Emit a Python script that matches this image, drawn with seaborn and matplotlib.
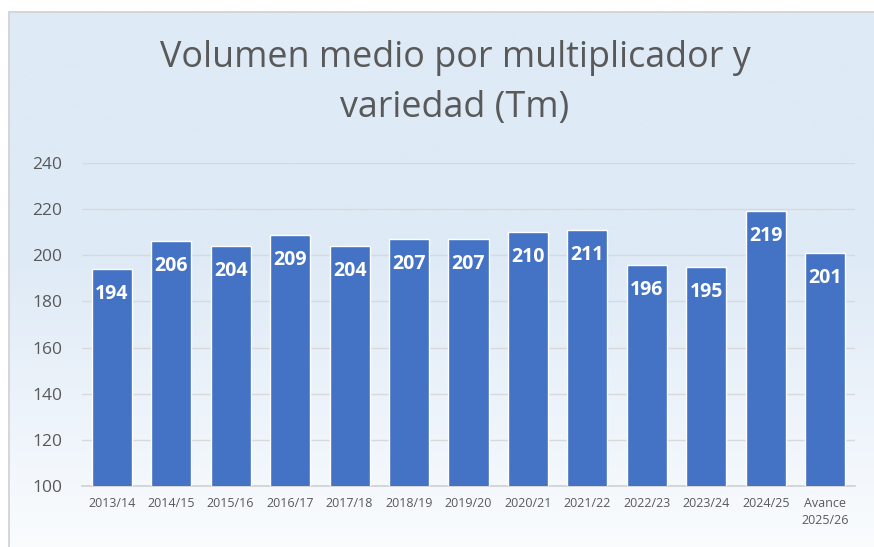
import numpy as np
import pandas as pd
import matplotlib
matplotlib.use("Agg")
import matplotlib.pyplot as plt
import seaborn as sns

campanas = ["2013/14", "2014/15", "2015/16", "2016/17", "2017/18", "2018/19", "2019/20",
            "2020/21", "2021/22", "2022/23", "2023/24", "2024/25", "Avance\n2025/26"]
volumen = [194, 206, 204, 209, 204, 207, 207, 210, 211, 196, 195, 219, 201]
etiquetas = ["194", "206", "204", "209", "204", "207", "207", "210", "211", "196", "195", "219", "201"]
y_ticks = [100, 120, 140, 160, 180, 200, 220, 240]
titulo_l1 = "Volumen medio por multiplicador y"
titulo_l2 = "variedad (Tm)"

df = pd.DataFrame({"campana": campanas, "volumen": volumen})

sns.set_theme(style="white")
plt.rcParams['font.family'] = ['Open Sans', 'DejaVu Sans']

W, H = 874, 547
fig = plt.figure(figsize=(W / 100, H / 100), dpi=100)
fig.patch.set_facecolor("white")

# background gradient frame
bg = fig.add_axes([9 / W, -2 / H, 1 - 9 / W + 10 / W, 1 - 12 / H + 2 / H], zorder=0)
grad = np.linspace(0, 1, 256).reshape(-1, 1)
top = np.array([0xDE, 0xEA, 0xF6]) / 255
bot = np.array([0xFA, 0xFC, 0xFE]) / 255
w = np.clip((grad - 0.45) / 0.55, 0, 1)
img = top * (1 - w) + bot * w
bg.imshow(img[:, None, :].repeat(2, axis=1), aspect="auto", extent=[0, 1, 0, 1], origin="upper")
bg.set_axis_off()
bg.add_patch(plt.Rectangle((0, 0), 1, 1, fill=False, edgecolor="#D0D0D0", lw=1.2,
                           transform=bg.transAxes, clip_on=False))

# main axes
x0, x1 = 82, 855
y_top, y_bot = 163, 486
ax = fig.add_axes([x0 / W, 1 - y_bot / H, (x1 - x0) / W, (y_bot - y_top) / H], zorder=1)
ax.patch.set_alpha(0)

sns.barplot(data=df, x="campana", y="volumen", color="#4472C4", width=0.675,
            saturation=1, ax=ax, zorder=3)
ax.set_ylim(100, 240)
ax.set_yticks(y_ticks)
ax.set_xlim(-0.5, len(campanas) - 0.5)
ax.grid(axis="y", color="#D9D9D9", lw=1.0, zorder=0)
ax.set_axisbelow(True)
for s in ["top", "right", "left"]:
    ax.spines[s].set_visible(False)
ax.spines["bottom"].set_color("#D0D0D0")
ax.spines["bottom"].set_linewidth(1.2)
ax.set_xlabel("")
ax.set_ylabel("")
ax.tick_params(axis="y", labelsize=12.5, labelcolor="#595959", length=0, pad=14)
ax.tick_params(axis="x", labelsize=9, labelcolor="#595959", length=0, pad=8)
for lab in ax.get_xticklabels():
    lab.set_linespacing(1.35)

for i, (v, t) in enumerate(zip(volumen, etiquetas)):
    ax.annotate(t, (i, v), xytext=(0, -25), textcoords="offset pixels",
                ha="center", va="center", color="white", fontsize=14, fontweight="bold", zorder=5)

fig.text(455 / W, 1 - 67 / H, titulo_l1, ha="center", va="baseline", fontsize=25.8, color="#595959")
fig.text(455 / W, 1 - 117 / H, titulo_l2, ha="center", va="baseline", fontsize=25.8, color="#595959")

fig.savefig("out.png", dpi=100)
